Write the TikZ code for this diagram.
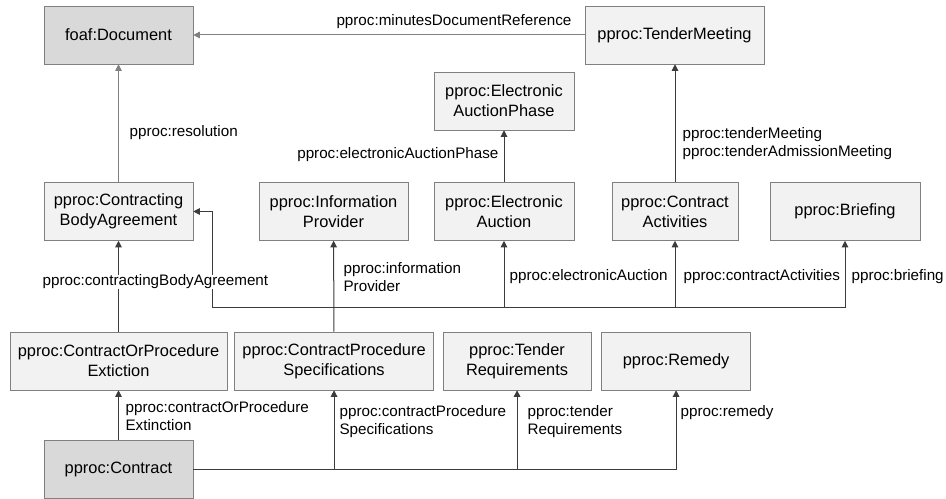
\documentclass[tikz,border=0pt]{standalone}
\usepackage{fontspec}
\setmainfont{Liberation Sans}
\usepackage{tikz}
\usetikzlibrary{arrows.meta, positioning, calc}
\usepackage{xcolor}
\definecolor{classFill}{RGB}{242,242,242}
\definecolor{rootFill}{RGB}{217,217,217}
\definecolor{edgeGray}{RGB}{128,128,128}
\definecolor{linkDark}{RGB}{60,60,60}

\begin{document}
\begin{tikzpicture}[
    x=0.75pt, y=-0.75pt,
    node distance=5.25pt,
    cls/.style={rectangle, draw=edgeGray, fill=classFill, minimum height=43.5pt, text centered, align=center, inner sep=1pt, font=\fontsize{12.3}{15}\selectfont},
    root/.style={cls, fill=rootFill},
    boxw/.style={minimum width=#1*0.75pt},
    prop/.style={fill=white, inner xsep=1pt, inner ysep=0pt, align=left, font=\fontsize{11.4}{13.5}\selectfont},
    arrow/.style={-{Triangle[length=5pt, width=5pt]}, draw=linkDark, line width=0.75pt},
    grayarrow/.style={arrow, draw=edgeGray}
]
\useasboundingbox (0,0) rectangle (946,499);

% Top rows
\node[root, boxw=149] (doc) at (118.5,35) {foaf:Document};
\node[cls, boxw=179] (meet) at (674.5,35) {pproc:TenderMeeting};
\node[cls, boxw=140] (phase) at (504,101) {pproc:Electronic\\AuctionPhase};

\node[cls, boxw=149] (cba) at (118.5,211.5) {pproc:Contracting\\BodyAgreement};
\node[cls, boxw=149] (info) at (333.5,211.5) {pproc:Information\\Provider};
\node[cls, boxw=140] (auction) at (504,211.5) {pproc:Electronic\\Auction};
\node[cls, boxw=126] (act) at (675,211.5) {pproc:Contract\\Activities};
\node[cls, boxw=150] (brief) at (845,211.5) {pproc:Briefing};

% Lower rows
\node[cls, boxw=217] (ext) at (118.5,361) {pproc:ContractOrProcedure\\Extiction};
\node[cls, boxw=199, right=of ext] (spec) {pproc:ContractProcedure\\Specifications};
\node[cls, boxw=148, right=6.75pt of spec] (req) {pproc:Tender\\Requirements};
\node[cls, boxw=149, right=7.5pt of req] (rem) {pproc:Remedy};
\node[root, boxw=149] (contract) at (118.5,469.5) {pproc:Contract};

\coordinate (bus) at (333.5,307);
\coordinate (knee) at ($(cba.east)+(19,0)$);

% Arrows
\draw[grayarrow] (meet) -- (doc);
\draw[grayarrow] (cba) -- (doc);
\draw[arrow] (auction) -- (phase);
\draw[arrow] (act.north) -- (act.north |- meet.south);
\draw[arrow] (spec) -- (info);
\draw[arrow] (ext) -- (cba);
\draw[arrow] (contract) -- (ext);

\draw[arrow] (bus) -| (knee) -- (cba.east);
\draw[arrow] (bus) -| (auction.south);
\draw[arrow] (bus) -| (act.south);
\draw[arrow] (bus) -| (brief.south);

\draw[arrow] (contract.east) -| (spec.south);
\draw[arrow] (contract.east) -| (req.south);
\draw[arrow] (contract.east) -| (rem.south);

% Property labels
\node[prop, anchor=east] (lminutes) at (573,22) {pproc:minutesDocumentReference};
\node[prop, anchor=west] (lres) at (128,133) {pproc:resolution};
\node[prop, anchor=east] (lphase) at (500,155) {pproc:electronicAuctionPhase};
\node[prop, anchor=west] (lmeet) at (681,143.5) {pproc:tenderMeeting\\pproc:tenderAdmissionMeeting};
\node[prop, anchor=west] (lcba) at (41,282) {pproc:contractingBodyAgreement};
\node[prop, anchor=west] (linfo) at (342,277) {pproc:information\\Provider};
\node[prop, anchor=west] (lauction) at (508,277) {pproc:electronicAuction};
\node[prop, anchor=west] (lact) at (682,277) {pproc:contractActivities};
\node[prop, anchor=west] (lbrief) at (850,277) {pproc:briefing};
\node[prop, anchor=west] (lext) at (124,416.5) {pproc:contractOrProcedure\\Extinction};
\node[prop, anchor=west] (lspec) at (338,422) {pproc:contractProcedure\\Specifications};
\node[prop, anchor=west] (lreq) at (526,422) {pproc:tender\\Requirements};
\node[prop, anchor=west] (lrem) at (679,413) {pproc:remedy};

\end{tikzpicture}
\end{document}
